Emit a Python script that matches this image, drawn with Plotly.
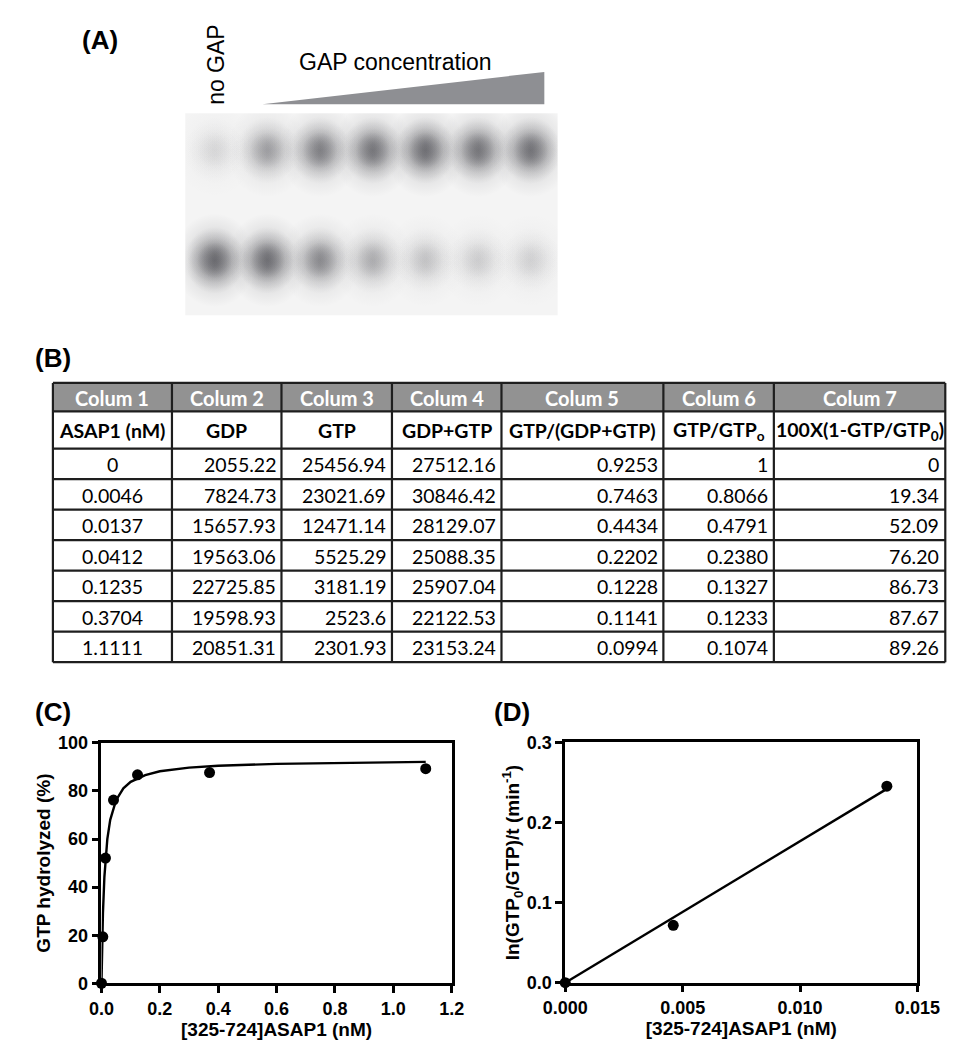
import plotly.graph_objects as go

W, H = 966, 1050

# ---------------- data ----------------
lanes = [1, 2, 3, 4, 5, 6, 7]
row_labels = ["GDP", "GTP"]

col_headers = ["Colum 1", "Colum 2", "Colum 3", "Colum 4", "Colum 5", "Colum 6", "Colum 7"]
sub_headers = ["ASAP1 (nM)", "GDP", "GTP", "GDP+GTP", "GTP/(GDP+GTP)",
               "GTP/GTP<sub>o</sub>", "100X(1-GTP/GTP<sub>0</sub>)"]
asap1_nM = ["0", "0.0046", "0.0137", "0.0412", "0.1235", "0.3704", "1.1111"]
gdp = ["2055.22", "7824.73", "15657.93", "19563.06", "22725.85", "19598.93", "20851.31"]
gtp = ["25456.94", "23021.69", "12471.14", "5525.29", "3181.19", "2523.6", "2301.93"]
gdp_plus_gtp = ["27512.16", "30846.42", "28129.07", "25088.35", "25907.04", "22122.53", "23153.24"]
gtp_fraction = ["0.9253", "0.7463", "0.4434", "0.2202", "0.1228", "0.1141", "0.0994"]
gtp_relative = ["1", "0.8066", "0.4791", "0.2380", "0.1327", "0.1233", "0.1074"]
pct_hydrolyzed = ["0", "19.34", "52.09", "76.20", "86.73", "87.67", "89.26"]

# panel C fitted curve
fit_c_x = [0, 0.002, 0.005, 0.01, 0.02, 0.03, 0.05, 0.075, 0.1, 0.15, 0.2, 0.3, 0.4, 0.6, 0.8, 1.0, 1.1111]
fit_c_y = [0, 14.0, 29.1, 44.3, 60.0, 68.0, 76.2, 81.1, 83.8, 86.6, 88.2, 89.7, 90.5, 91.3, 91.7, 92.0, 92.1]

# panel D
d_x = [0, 0.0046, 0.0137]
d_y = [0, 0.0716, 0.2453]
fit_d_x = [0, 0.0137]
fit_d_y = [0, 0.242]

c_xticks = [0.0, 0.2, 0.4, 0.6, 0.8, 1.0, 1.2]
c_yticks = [0, 20, 40, 60, 80, 100]
d_xticks = [0.000, 0.005, 0.010, 0.015]
d_yticks = [0.0, 0.1, 0.2, 0.3]

# ---------------- helpers ----------------
def px(x):
    return x / W

def py(y):
    return 1 - y / H

ARIAL = "Arial, Liberation Sans, sans-serif"
CALIBRI = "Lato, Carlito, Calibri, sans-serif"
GEL_BG = "rgb(244,244,244)"

fig = go.Figure()

# ---------------- panel A : gel ----------------
all_int = [float(v) for v in gdp] + [float(v) for v in gtp]
vmax = max(all_int)
BACKGROUND_LEVEL = 1500.0

def darkness(v):
    return (max(0.0, float(v) - BACKGROUND_LEVEL) / (vmax - BACKGROUND_LEVEL)) ** 0.5

# layered soft markers: (size, vertical offset in row units, alpha factor)
spot_layers = [(76, -0.08, 0.2), (76, 0.08, 0.2),
               (56, -0.05, 0.28), (56, 0.05, 0.28), (36, 0.0, 0.3)]
for r, series in enumerate([gdp, gtp]):
    for size, dy, af in spot_layers:
        centers = [f"rgba(48,48,55,{af * darkness(v):.3f})" for v in series]
        fig.add_trace(go.Scatter(
            x=lanes, y=[r + dy] * len(lanes), mode="markers",
            marker=dict(size=size, color="rgba(48,48,55,0)", line=dict(width=0),
                        gradient=dict(type="radial", color=centers)),
            xaxis="x3", yaxis="y3", showlegend=False, hoverinfo="skip"))

# ---------------- panel C ----------------
fig.add_trace(go.Scatter(x=fit_c_x, y=fit_c_y, mode="lines", line=dict(color="black", width=2.4),
                         showlegend=False, xaxis="x", yaxis="y"))
fig.add_trace(go.Scatter(x=[float(v) for v in asap1_nM], y=[float(v) for v in pct_hydrolyzed],
                         mode="markers", marker=dict(size=11, color="black"), cliponaxis=False,
                         showlegend=False, xaxis="x", yaxis="y"))

# ---------------- panel D ----------------
fig.add_trace(go.Scatter(x=fit_d_x, y=fit_d_y, mode="lines", line=dict(color="black", width=2.4),
                         showlegend=False, xaxis="x2", yaxis="y2"))
fig.add_trace(go.Scatter(x=d_x, y=d_y, mode="markers", marker=dict(size=11, color="black"),
                         cliponaxis=False, showlegend=False, xaxis="x2", yaxis="y2"))

tickfont = dict(family=ARIAL, size=18, color="black", weight="bold")
titlefont = dict(family=ARIAL, size=19, color="black", weight="bold")
axis_common = dict(showline=True, linecolor="black", linewidth=2.6, mirror=True,
                   ticks="outside", ticklen=7, tickwidth=2.6, tickcolor="black",
                   showgrid=False, zeroline=False, tickfont=tickfont)

def bold(vals, fmt):
    return [f"<b>{format(v, fmt)}</b>" for v in vals]

fig.update_layout(
    width=W, height=H, margin=dict(l=0, r=0, t=0, b=0),
    paper_bgcolor="white", plot_bgcolor="white",
    xaxis=dict(domain=[px(74), px(441.7)], range=[0, 1.2], tickvals=c_xticks,
               ticktext=bold(c_xticks, ".1f"),
               title=dict(text="<b>[325-724]ASAP1 (nM)</b>", font=titlefont, standoff=5),
               anchor="y", **axis_common),
    yaxis=dict(domain=[py(984), py(739)], range=[0, 100], tickvals=c_yticks,
               ticktext=bold(c_yticks, "d"),
               title=dict(text="<b>GTP hydrolyzed (%)</b>", font=titlefont, standoff=3),
               anchor="x", **axis_common),
    xaxis2=dict(domain=[px(561), px(930.7)], range=[0, 0.015], tickvals=d_xticks,
                ticktext=bold(d_xticks, ".3f"),
                title=dict(text="<b>[325-724]ASAP1 (nM)</b>", font=titlefont, standoff=5),
                anchor="y2", **axis_common),
    yaxis2=dict(domain=[py(983.4), py(738.5)], range=[0, 0.3], tickvals=d_yticks,
                ticktext=bold(d_yticks, ".1f"),
                title=dict(text="<b>ln(GTP<sub>0</sub>/GTP)/t (min<sup>-1</sup>)</b>", font=titlefont, standoff=3),
                anchor="x2", **axis_common),
    xaxis3=dict(domain=[px(162), px(553)], range=[0.44, 7.51], visible=False, anchor="y3"),
    yaxis3=dict(domain=[py(303), py(97)], range=[1.5, -0.339], visible=False, anchor="x3"),
)

shapes = []
# gel background
shapes.append(dict(type="rect", xref="x3 domain", yref="y3 domain", x0=0, x1=1, y0=0, y1=1,
                   fillcolor=GEL_BG, line=dict(width=0), layer="below"))
# GAP wedge
shapes.append(dict(type="path", xref="paper", yref="paper",
                   path=f"M {px(243)} {py(88)} L {px(539)} {py(55)} L {px(539)} {py(88)} Z",
                   fillcolor="#8e8f93", line=dict(width=0)))

annotations = []
# panel A texts
annotations.append(dict(text="no GAP", x=px(194), y=py(47), xref="paper", yref="paper",
                        textangle=-90, showarrow=False, font=dict(family=ARIAL, size=23, color="black"),
                        xanchor="center", yanchor="middle"))
annotations.append(dict(text="GAP concentration", x=px(383), y=py(45), xref="paper", yref="paper",
                        showarrow=False, font=dict(family=ARIAL, size=23, color="black"),
                        xanchor="center", yanchor="middle"))
for r, lab in enumerate(row_labels):
    annotations.append(dict(text=lab, x=0.43, y=r, xref="x3", yref="y3", showarrow=False,
                            font=dict(family=ARIAL, size=24, color="black"),
                            xanchor="right", yanchor="middle", xshift=-12))

# panel labels
for lab, x, y in [("(A)", 72, 22), ("(B)", 23, 347), ("(C)", 23, 707), ("(D)", 505, 707)]:
    annotations.append(dict(text=f"<b>{lab}</b>", x=px(x), y=py(y), xref="paper", yref="paper", showarrow=False,
                            font=dict(family=ARIAL, size=26, color="black", weight="bold"),
                            xanchor="center", yanchor="middle"))

# ---------------- panel B : table ----------------
col_edges = [23, 148, 263, 379, 494, 664, 780, 960]
row_edges = [372, 401, 439] + [439 + 31.1 * (i + 1) for i in range(7)]
columns = [asap1_nM, gdp, gtp, gdp_plus_gtp, gtp_fraction, gtp_relative, pct_hydrolyzed]

shapes.append(dict(type="rect", xref="paper", yref="paper", x0=px(col_edges[0]), x1=px(col_edges[-1]),
                   y0=py(row_edges[1]), y1=py(row_edges[0]), fillcolor="#929292", line=dict(width=0)))
for xe in col_edges:
    shapes.append(dict(type="line", xref="paper", yref="paper", x0=px(xe), x1=px(xe),
                       y0=py(row_edges[-1]), y1=py(row_edges[0]), line=dict(color="#1e1e1e", width=2.2)))
for ye in row_edges:
    shapes.append(dict(type="line", xref="paper", yref="paper", x0=px(col_edges[0]), x1=px(col_edges[-1]),
                       y0=py(ye), y1=py(ye), line=dict(color="#1e1e1e", width=2.2)))

for c in range(7):
    cx = (col_edges[c] + col_edges[c + 1]) / 2
    annotations.append(dict(text=f"<b>{col_headers[c]}</b>", x=px(cx), y=py((row_edges[0] + row_edges[1]) / 2 + 1),
                            xref="paper", yref="paper", showarrow=False,
                            font=dict(family=CALIBRI, size=20, color="white", weight="bold"),
                            xanchor="center", yanchor="middle"))
    annotations.append(dict(text=f"<b>{sub_headers[c]}</b>", x=px(cx), y=py((row_edges[1] + row_edges[2]) / 2 + 1),
                            xref="paper", yref="paper", showarrow=False,
                            font=dict(family=CALIBRI, size=19.5, color="black", weight="bold"),
                            xanchor="center", yanchor="middle"))
    for r in range(7):
        yc = (row_edges[2 + r] + row_edges[3 + r]) / 2 + 1
        if c == 0:
            xa, xx = "center", px(cx)
        else:
            xa, xx = "right", px(col_edges[c + 1] - 4)
        annotations.append(dict(text=columns[c][r], x=xx, y=py(yc), xref="paper", yref="paper",
                                showarrow=False, font=dict(family=CALIBRI, size=19.5, color="black"),
                                xanchor=xa, yanchor="middle"))

fig.update_layout(shapes=shapes, annotations=annotations)
fig.write_html("out.html")
